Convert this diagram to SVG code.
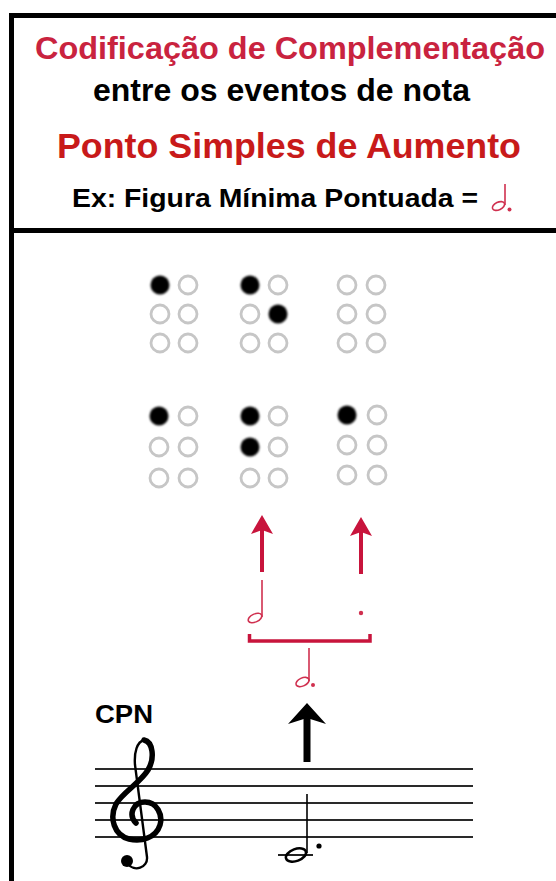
<svg xmlns="http://www.w3.org/2000/svg" width="556" height="881" viewBox="0 0 556 881">
<style>
.t{font-family:"Liberation Sans",Arial,sans-serif;font-weight:bold}
.hole{fill:none;stroke:#c6c6c6;stroke-width:2.8}
.dot{fill:#000;filter:url(#soft)}
.rn{fill:none;stroke:#d0304f;stroke-width:1.6}
.rf{fill:#d0304f}
.ra{stroke:#c8143c;stroke-width:4;fill:none}
.rh{fill:#c8143c}
.staff{stroke:#2a2a2a;stroke-width:2}
</style>
<defs>
<filter id="soft" x="-30%" y="-30%" width="160%" height="160%"><feGaussianBlur stdDeviation="0.9"/></filter>
</defs>
<rect width="556" height="881" fill="#fff"/>

<g id="frame">
<line x1="11.5" y1="13" x2="11.5" y2="881" stroke="#000" stroke-width="5"/>
<line x1="9" y1="15.5" x2="556" y2="15.5" stroke="#000" stroke-width="5"/>
<line x1="9" y1="230.5" x2="556" y2="230.5" stroke="#000" stroke-width="5"/>
</g>

<g id="header">
<text class="t" x="35" y="59" font-size="32" fill="#c9233f" textLength="510" lengthAdjust="spacingAndGlyphs">Codificação de  Complementação</text>
<text class="t" x="93" y="101" font-size="31" fill="#000" textLength="377" lengthAdjust="spacingAndGlyphs">entre os eventos de nota</text>
<text class="t" x="57" y="158" font-size="35" fill="#c81a1a" textLength="464" lengthAdjust="spacingAndGlyphs">Ponto Simples de Aumento</text>
<text class="t" x="72" y="207" font-size="25" fill="#000" textLength="406" lengthAdjust="spacingAndGlyphs">Ex: Figura Mínima Pontuada =</text>
<g id="header-note">
<line class="rn" x1="505" y1="184" x2="505" y2="205"/>
<ellipse class="rn" cx="498.5" cy="206" rx="6.5" ry="3.8" transform="rotate(-25 498.5 206)"/>
<circle class="rf" cx="509.5" cy="209.5" r="2"/>
</g>
</g>

<g id="cell-top-1">
<circle class="dot" cx="160" cy="285" r="9.5"/><circle class="hole" cx="188" cy="285" r="9"/>
<circle class="hole" cx="160" cy="314" r="9"/><circle class="hole" cx="188" cy="314" r="9"/>
<circle class="hole" cx="160" cy="343" r="9"/><circle class="hole" cx="188" cy="343" r="9"/>
</g>
<g id="cell-top-2">
<circle class="dot" cx="250" cy="285" r="9.5"/><circle class="hole" cx="278" cy="285" r="9"/>
<circle class="hole" cx="250" cy="314" r="9"/><circle class="dot" cx="278" cy="314" r="9.5"/>
<circle class="hole" cx="250" cy="343" r="9"/><circle class="hole" cx="278" cy="343" r="9"/>
</g>
<g id="cell-top-3">
<circle class="hole" cx="347" cy="285" r="9"/><circle class="hole" cx="376" cy="285" r="9"/>
<circle class="hole" cx="347" cy="314" r="9"/><circle class="hole" cx="376" cy="314" r="9"/>
<circle class="hole" cx="347" cy="343" r="9"/><circle class="hole" cx="376" cy="343" r="9"/>
</g>

<g id="cell-bottom-1">
<circle class="dot" cx="159" cy="416" r="9.5"/><circle class="hole" cx="188" cy="416" r="9"/>
<circle class="hole" cx="159" cy="447" r="9"/><circle class="hole" cx="188" cy="447" r="9"/>
<circle class="hole" cx="159" cy="478" r="9"/><circle class="hole" cx="188" cy="478" r="9"/>
</g>
<g id="cell-bottom-2">
<circle class="dot" cx="250" cy="416" r="9.5"/><circle class="hole" cx="278" cy="416" r="9"/>
<circle class="dot" cx="250" cy="447" r="9.5"/><circle class="hole" cx="278" cy="447" r="9"/>
<circle class="hole" cx="250" cy="478" r="9"/><circle class="hole" cx="278" cy="478" r="9"/>
</g>
<g id="cell-bottom-3">
<circle class="dot" cx="347" cy="415" r="9.5"/><circle class="hole" cx="377" cy="415" r="9"/>
<circle class="hole" cx="347" cy="445" r="9"/><circle class="hole" cx="377" cy="445" r="9"/>
<circle class="hole" cx="347" cy="475" r="9"/><circle class="hole" cx="377" cy="475" r="9"/>
</g>

<g id="half-note">
<line class="rn" x1="262" y1="580" x2="262" y2="617"/>
<ellipse class="rn" cx="255" cy="618" rx="7.2" ry="4" transform="rotate(-25 255 618)"/>
</g>
<g id="dot-sign">
<circle class="rf" cx="361" cy="613" r="2.2"/>
</g>
<g id="bracket">
<path d="M249.5 634 V641 H370 V634" fill="none" stroke="#c8143c" stroke-width="3.5"/>
</g>
<g id="dotted-half">
<line class="rn" x1="309" y1="648" x2="309" y2="681"/>
<ellipse class="rn" cx="302.5" cy="682" rx="7" ry="4" transform="rotate(-25 302.5 682)"/>
<circle class="rf" cx="313" cy="685" r="2"/>
</g>

<g id="cpn">
<text class="t" x="95" y="723" font-size="25" fill="#000" textLength="58" lengthAdjust="spacingAndGlyphs">CPN</text>
<g id="staff">
<line class="staff" x1="95" y1="769" x2="473" y2="769"/>
<line class="staff" x1="95" y1="786" x2="473" y2="786"/>
<line class="staff" x1="95" y1="803" x2="473" y2="803"/>
<line class="staff" x1="95" y1="820" x2="473" y2="820"/>
<line class="staff" x1="95" y1="837" x2="473" y2="837"/>
</g>
<g id="clef">
<path d="M136 823 C128 815 133 802 145 802 C157 802 163 815 160 825 C156 838 141 842 129 839 C114 835 109 818 116 804 C123 792 140 783 148 770 C155 758 153 742 144 740" fill="none" stroke="#000" stroke-width="5.5" stroke-linecap="round"/>
<path d="M144 740 C137 742 134 752 135 765 L147 857 C148 868 134 872 128 864" fill="none" stroke="#000" stroke-width="2.4" stroke-linecap="round"/>
<circle cx="127" cy="861" r="6" fill="#000"/>
</g>
<g id="staff-note">
<line x1="278" y1="855" x2="313" y2="855" stroke="#222" stroke-width="2"/>
<ellipse cx="296" cy="855" rx="10.5" ry="6" transform="rotate(-20 296 855)" fill="none" stroke="#000" stroke-width="2.6"/>
<line x1="307" y1="794" x2="307" y2="853" stroke="#000" stroke-width="1.6"/>
<circle cx="319" cy="846" r="2.6" fill="#000"/>
</g>
</g>

<g id="connectors">
<line class="ra" x1="262" y1="572" x2="262" y2="530"/>
<path class="rh" d="M262 515 L273 534 L262 530 L251 534 Z"/>
<line class="ra" x1="361" y1="574" x2="361" y2="532"/>
<path class="rh" d="M361 517 L372 536 L361 532 L350 536 Z"/>
<line x1="307" y1="762" x2="307" y2="718" stroke="#000" stroke-width="7"/>
<path d="M307 703 L326 724 L307 718 L288 724 Z" fill="#000"/>
</g>
</svg>
